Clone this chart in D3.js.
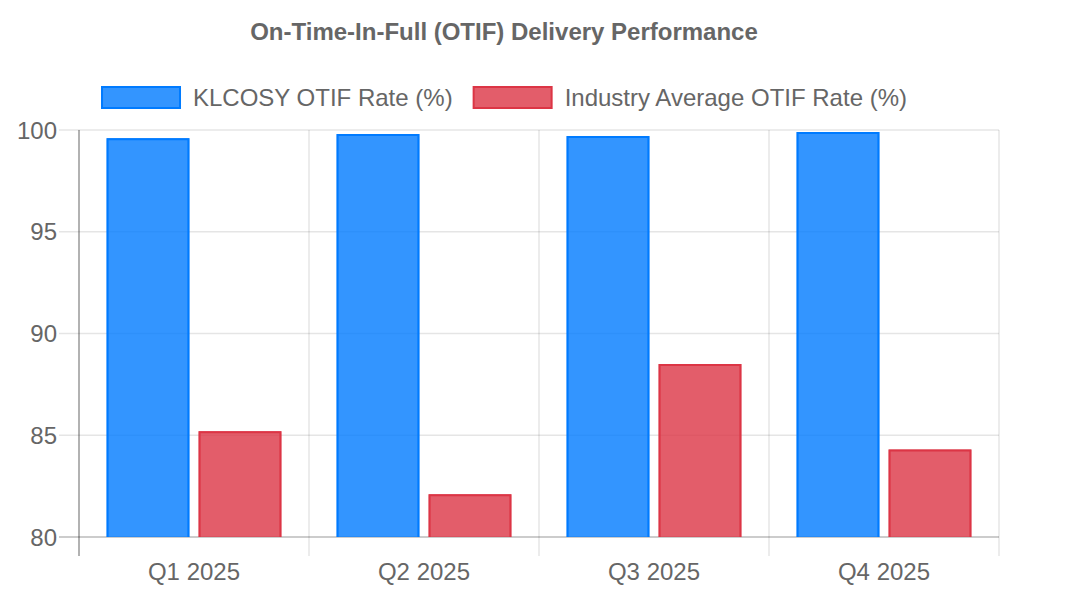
<!DOCTYPE html>
<html>
<head>
<meta charset="utf-8">
<script src="https://cdn.jsdelivr.net/npm/d3@7"></script>
<style>
  html, body { margin: 0; padding: 0; background: #fff; }
  svg { display: block; font-family: "Liberation Sans", Arial, Helvetica, sans-serif; }
</style>
</head>
<body>
<svg id="chart" width="1078" height="595"></svg>
<script>
const categories = ["Q1 2025", "Q2 2025", "Q3 2025", "Q4 2025"];
const seriesNames = ["KLCOSY OTIF Rate (%)", "Industry Average OTIF Rate (%)"];
const klcosyValues = [99.6, 99.8, 99.7, 99.9];
const industryValues = [85.2, 82.1, 88.5, 84.3];
const yTicks = [80, 85, 90, 95, 100];
const titleText = "On-Time-In-Full (OTIF) Delivery Performance";

(function () {
const fills = ["rgba(0,123,255,0.8)", "rgba(220,53,69,0.8)"];
const strokes = ["#007bff", "#dc3545"];
const seriesValues = [klcosyValues, industryValues];

const svg = d3.select("#chart");
const pLeft = 79, pRight = 999, pTop = 130, pBottom = 537;

const x = d3.scaleBand().domain(categories).range([pLeft, pRight]).padding(0);
const bw = x.bandwidth();
const xs = d3.scaleBand().domain(seriesNames).range([bw * 0.1, bw * 0.9]).paddingInner(0.1).paddingOuter(0.05);
const y = d3.scaleLinear().domain([80, 100]).range([pBottom, pTop]);

// Horizontal grid
const gY = svg.append("g");
yTicks.forEach(t => {
  gY.append("line")
    .attr("x1", pLeft - 20).attr("x2", pRight)
    .attr("y1", y(t)).attr("y2", y(t))
    .attr("stroke", t === 80 ? "rgba(0,0,0,0.2)" : "rgba(0,0,0,0.1)")
    .attr("stroke-width", t === 80 ? 2 : 1.5);
  gY.append("text")
    .attr("x", pLeft - 22).attr("y", y(t))
    .attr("text-anchor", "end").attr("dominant-baseline", "central")
    .attr("font-size", 24).attr("fill", "#666")
    .text(t);
});

// Vertical grid at category boundaries
const bounds = categories.map(c => x(c)).concat([pRight]);
bounds.forEach((b, i) => {
  svg.append("line")
    .attr("x1", b).attr("x2", b)
    .attr("y1", pTop).attr("y2", pBottom + 19)
    .attr("stroke", i === 0 ? "rgba(0,0,0,0.3)" : "rgba(0,0,0,0.1)")
    .attr("stroke-width", i === 0 ? 2 : 1.5);
});

// X labels
svg.append("g").selectAll("text").data(categories).join("text")
  .attr("x", d => x(d) + bw / 2).attr("y", 580)
  .attr("text-anchor", "middle").attr("font-size", 24).attr("fill", "#666")
  .text(d => d);

// Bars
seriesNames.forEach((s, si) => {
  const g = svg.append("g");
  categories.forEach((c, ci) => {
    const v = seriesValues[si][ci];
    const x0 = x(c) + xs(s), w = xs.bandwidth();
    const yt = y(v), yb = y(80);
    g.append("rect")
      .attr("x", x0).attr("y", yt).attr("width", w).attr("height", yb - yt)
      .attr("fill", fills[si]);
    g.append("path")
      .attr("d", `M${x0 + 1},${yb} L${x0 + 1},${yt + 1} L${x0 + w - 1},${yt + 1} L${x0 + w - 1},${yb}`)
      .attr("fill", "none").attr("stroke", strokes[si]).attr("stroke-width", 2);
  });
});

// Title
svg.append("text")
  .attr("x", 504).attr("y", 40)
  .attr("text-anchor", "middle").attr("font-size", 24).attr("font-weight", "bold")
  .attr("fill", "#666").text(titleText);

// Legend
const boxW = 80, boxH = 23, gapBT = 12, gapItem = 20;
const legend = svg.append("g");
const tmp = legend.append("text").attr("font-size", 24);
const widths = seriesNames.map(n => { tmp.text(n); return tmp.node().getComputedTextLength(); });
tmp.remove();
const total = widths.reduce((a, w) => a + boxW + gapBT + w, 0) + gapItem * (seriesNames.length - 1);
let cx = 504 - total / 2;
seriesNames.forEach((n, i) => {
  legend.append("rect")
    .attr("x", cx + 1).attr("y", 86 + 1).attr("width", boxW - 2).attr("height", boxH - 2)
    .attr("fill", fills[i]).attr("stroke", strokes[i]).attr("stroke-width", 2);
  legend.append("text")
    .attr("x", cx + boxW + gapBT).attr("y", 106)
    .attr("font-size", 24).attr("fill", "#666").text(n);
  cx += boxW + gapBT + widths[i] + gapItem;
});
})();
</script>
</body>
</html>
